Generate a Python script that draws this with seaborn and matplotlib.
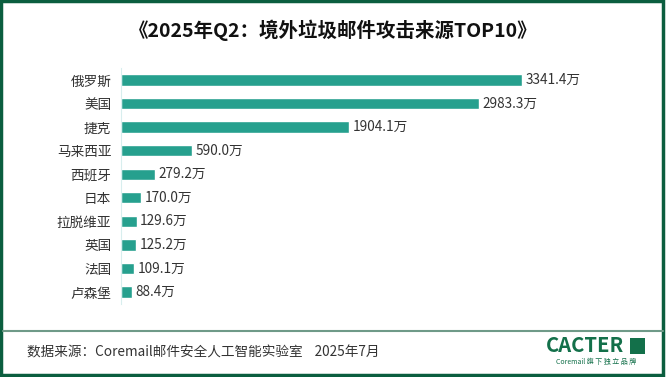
import matplotlib
matplotlib.use("Agg")
import matplotlib.pyplot as plt
import seaborn as sns
import pandas as pd
from matplotlib.patches import Rectangle
from matplotlib.lines import Line2D

countries = ["俄罗斯", "美国", "捷克", "马来西亚", "西班牙", "日本", "拉脱维亚", "英国", "法国", "卢森堡"]
values = [3341.4, 2983.3, 1904.1, 590.0, 279.2, 170.0, 129.6, 125.2, 109.1, 88.4]
unit = "万"
title = "《2025年Q2：境外垃圾邮件攻击来源TOP10》"
footer = "数据来源：Coremail邮件安全人工智能实验室    2025年7月"

sns.set_theme(style="white")
plt.rcParams['font.family'] = ['Noto Sans CJK SC', 'DejaVu Sans']

df = pd.DataFrame({"country": countries, "value": values})

fig = plt.figure(figsize=(6.66, 3.77), dpi=100)
ax = fig.add_axes([121/666, 1 - 303.8/377, 480/666, 235.6/377])
sns.barplot(data=df, x="value", y="country", color="#26a08e", saturation=1,
            width=0.48, ax=ax, orient="h")
ax.set_xlim(0, 4000)
ax.set_ylim(9.5, -0.5)
ax.set_xlabel("")
ax.set_ylabel("")
ax.set_xticks([])
ax.tick_params(axis="y", length=0, pad=7, labelsize=9.8, labelcolor="#333333")
for s in ["top", "right", "bottom"]:
    ax.spines[s].set_visible(False)
ax.spines["left"].set_color("#d8eeee")
ax.spines["left"].set_linewidth(0.8)
for i, v in enumerate(values):
    ax.text(v + 30, i, f"{v:.1f}{unit}", va="center", ha="left", fontsize=9.8, color="#333333")

fig.text(0.5, 1 - 30/377, title, ha="center", va="center", fontsize=14,
         fontweight="bold", color="#111111")

# footer
fig.text(27/666, 1 - 352/377, footer, ha="left", va="center", fontsize=9.8, color="#333333")
fig.add_artist(Line2D([3/666, 663/666], [1 - 331/377, 1 - 331/377], transform=fig.transFigure,
                      color="#6f9a88", lw=1.5))
fig.text(546/666, 1 - 346/377, "CACTER", ha="left", va="center", fontsize=14.5,
         fontweight="bold", color="#13704a")
fig.add_artist(Rectangle((630/666, 1 - 354/377), 15/666, 16/377, transform=fig.transFigure,
                         facecolor="#13704a", edgecolor="none"))
fig.text(596/666, 1 - 362/377, "Coremail 旗 下 独 立 品 牌", ha="center", va="center",
         fontsize=5, color="#13704a")

# border
fig.add_artist(Rectangle((1/666, 2/377), 662/666, 374/377, transform=fig.transFigure,
                         facecolor="none", edgecolor="#0b5e3f", lw=2.5))

fig.savefig("out.png", dpi=100)
